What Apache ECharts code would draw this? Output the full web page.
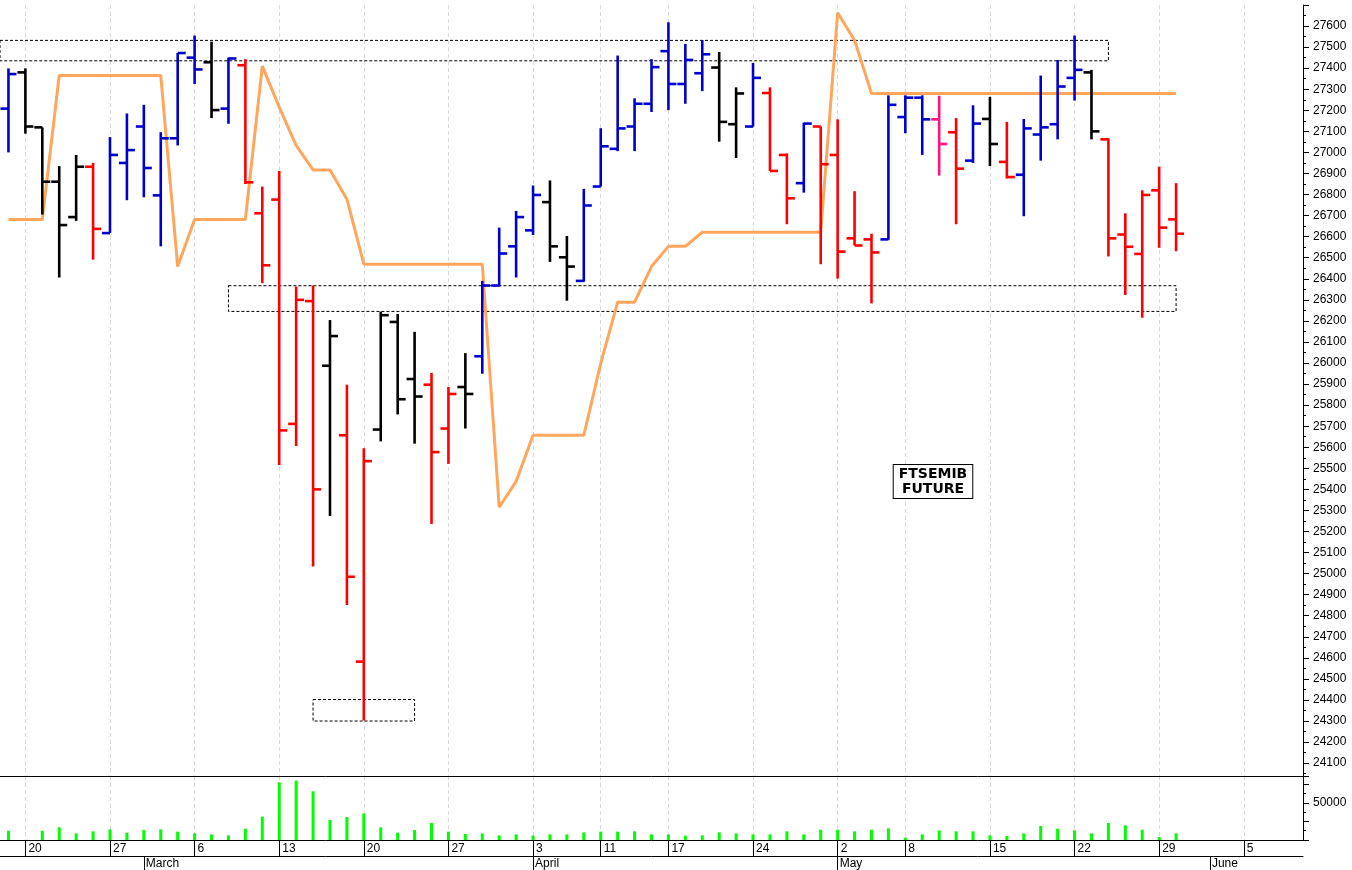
<!DOCTYPE html>
<html><head><meta charset="utf-8">
<script src="https://cdn.jsdelivr.net/npm/echarts@6/dist/echarts.min.js"></script>
<style>html,body{margin:0;padding:0;background:#fff}#c{width:1352px;height:870px}</style>
</head><body><div id="c"></div>
<script>
const dates = ['2023-02-17','2023-02-20','2023-02-21','2023-02-22','2023-02-23','2023-02-24','2023-02-27','2023-02-28',
'2023-03-01','2023-03-02','2023-03-03','2023-03-06','2023-03-07','2023-03-08','2023-03-09','2023-03-10','2023-03-13','2023-03-14','2023-03-15','2023-03-16','2023-03-17','2023-03-20','2023-03-21','2023-03-22','2023-03-23','2023-03-24','2023-03-27','2023-03-28','2023-03-29','2023-03-30','2023-03-31',
'2023-04-03','2023-04-04','2023-04-05','2023-04-06','2023-04-11','2023-04-12','2023-04-13','2023-04-14','2023-04-17','2023-04-18','2023-04-19','2023-04-20','2023-04-21','2023-04-24','2023-04-25','2023-04-26','2023-04-27','2023-04-28',
'2023-05-02','2023-05-03','2023-05-04','2023-05-05','2023-05-08','2023-05-09','2023-05-10','2023-05-11','2023-05-12','2023-05-15','2023-05-16','2023-05-17','2023-05-18','2023-05-19','2023-05-22','2023-05-23','2023-05-24','2023-05-25','2023-05-26','2023-05-29','2023-05-30','2023-05-31',
'2023-06-01','2023-06-02','2023-06-05','2023-06-06','2023-06-07','2023-06-08'];

const opens  = [27208,27380,27119,26861,26693,26932,26617,26950,27123,26796,27067,27450,27428,27208,27414,26711,26776,25711,26294,25987,25657,24582,25684,26195,25924,25897,25689,25886,26032,26368,26554,26630,26764,26502,26390,26838,27017,27123,27231,27481,27325,27376,27403,27134,27123,27282,26988,26854,27123,26988,26592,26587,26587,27168,27260,27157,27096,26961,27159,26955,26894,27085,27134,27354,27380,27062,26610,26518,26820,26682];
const highs  = [27399,27399,27119,26935,26988,26950,27073,27185,27226,27096,27472,27555,27526,27450,27443,26838,26912,26363,26368,26204,25897,25595,26244,26233,26148,25953,25886,26047,26390,26643,26722,26843,26867,26603,26827,27115,27460,27257,27443,27618,27515,27533,27477,27309,27425,27309,26995,27141,27123,27157,26816,26614,27271,27271,27271,27269,27163,27224,27264,27145,27159,27365,27439,27555,27392,27067,26711,26820,26932,26854];
const lows   = [27000,27089,26705,26406,26675,26491,26617,26773,26787,26554,27033,27325,27163,27136,26850,26379,25516,25606,25034,25274,24851,24302,25628,25756,25617,25236,25521,25689,25949,26363,26406,26608,26480,26296,26386,26838,27006,27006,27192,27201,27231,27291,27051,26973,27123,26912,26659,26809,26469,26401,26558,26283,26585,27091,26988,26890,26659,26950,26935,26876,26697,26961,27062,27246,27062,26506,26323,26215,26547,26531];
const closes = [27372,27123,26861,26655,26932,26637,26988,27011,26926,27067,27472,27394,27201,27446,26858,26464,25680,26300,25400,26128,24985,25534,26227,25828,25841,25577,25853,25853,26368,26520,26693,26798,26554,26458,26748,27029,27114,27231,27405,27325,27439,27466,27145,27280,27354,26912,26782,27137,26944,26529,26558,26525,27226,27260,27157,27040,26923,27137,27040,26883,27114,27119,27313,27392,27100,26592,26552,26798,26643,26614];
const barColors = ['B','K','K','K','K','R','B','B','B','B','B','B','K','B','R','R','R','R','R','K','R','R','K','K','K','R','R','K','B','B','B','B','K','K','B','B','B','B','B','B','B','B','K','K','B','R','R','B','R','R','R','R','B','B','B','P','R','B','K','R','B','B','B','B','K','R','R','R','R','R'];
const trailLine = [26682,26682,26682,27365,27365,27365,27365,27365,27365,27365,26458,26682,26682,26682,26682,27410,27215,27033,26917,26917,26778,26469,26469,26469,26469,26469,26469,26469,26469,25315,25438,25657,25657,25657,25657,25998,26289,26289,26458,26554,26554,26621,26621,26621,26621,26621,26621,26621,26621,27663,27533,27280,27280,27280,27280,27280,27280,27280,27280,27280,27280,27280,27280,27280,27280,27280,27280,27280,27280,27280];
const volumes = [12600,0,12600,17100,9000,11700,14400,9900,13500,14400,11300,9000,7600,6300,15300,31500,77900,80200,65800,27000,31100,36000,17100,9900,13500,23000,11300,8100,9000,6300,7600,5900,7600,7600,10300,11300,11300,11700,7600,7600,5900,6300,10300,9000,7600,7600,11700,7600,13900,13900,11700,13900,15800,3200,7600,13100,11700,11700,6300,5400,9000,18900,15300,13100,9000,23000,19800,13900,4000,9000];
const priceTicksHidden = [24000, 27700];
const monthNames = ['January','February','March','April','May','June','July','August','September','October','November','December'];
const boxes = [
  [{yAxis: 27532}, {xAxis: '2023-05-24', yAxis: 27435}],
  [{xAxis: '2023-03-08', yAxis: 26367}, {xAxis: '2023-05-30', yAxis: 26245}],
  [{xAxis: '2023-03-15', yAxis: 24402}, {xAxis: '2023-03-23', yAxis: 24300}]
];

const colorMap = {B:'#0000cc', K:'#000000', R:'#ff0000', P:'#ff1480'};
const dd = dates.map(s => new Date(s + 'T00:00:00Z'));
const isWeek = dd.map((d,i) => i > 0 && d.getUTCDay() < dd[i-1].getUTCDay());
const isMonth = dd.map((d,i) => i > 0 && d.getUTCMonth() !== dd[i-1].getUTCMonth());
const ohlc = opens.map((o,i) => [i, o, highs[i], lows[i], closes[i]]);

const chart = echarts.init(document.getElementById('c'));
const gridDash = {color:'#d9d9d9', type:[4,3], width:1};
const font = 'Arial';
chart.setOption({
  animation: false,
  backgroundColor: '#fff',
  grid: [
    {left: 0, right: 49, top: 5, bottom: 85.8},
    {left: 0, right: 49, top: 776, bottom: 30}
  ],
  xAxis: [
    {gridIndex:0, type:'category', data:dates, boundaryGap:true,
     axisLine:{show:false}, axisTick:{show:false}, axisLabel:{show:false},
     splitLine:{show:true, interval:(i)=>isWeek[i], alignWithLabel:true, lineStyle:gridDash}},
    {gridIndex:1, type:'category', data:dates, position:'bottom', boundaryGap:true,
     axisLine:{show:true, onZero:false, lineStyle:{color:'#000', width:1}},
     axisTick:{show:true, interval:(i)=>isWeek[i], alignWithLabel:true, length:16, lineStyle:{color:'#000'}},
     axisLabel:{interval:(i)=>isWeek[i], formatter:(v)=>String(+v.slice(8)), align:'left', padding:[0,0,0,3], margin:3, color:'#000', fontSize:12, fontFamily:font},
     splitLine:{show:true, interval:(i)=>isWeek[i], alignWithLabel:true, lineStyle:gridDash}},
    {gridIndex:1, type:'category', data:dates, position:'bottom', offset:16, boundaryGap:true,
     axisLine:{show:true, onZero:false, lineStyle:{color:'#000', width:1}},
     axisTick:{show:true, interval:(i)=>isMonth[i], alignWithLabel:true, length:14, lineStyle:{color:'#000'}},
     axisLabel:{interval:(i)=>isMonth[i], formatter:(v)=>monthNames[+v.slice(5,7)-1], align:'left', padding:[0,0,0,2], margin:2, color:'#000', fontSize:12, fontFamily:font}},
    {gridIndex:1, type:'category', data:dates, position:'top', boundaryGap:true,
     axisLine:{show:true, onZero:false, lineStyle:{color:'#000', width:1}},
     axisTick:{show:false}, axisLabel:{show:false}}
  ],
  yAxis: [
    {gridIndex:0, type:'value', position:'right', min:24000, max:27700, interval:100, scale:true,
     axisLine:{show:true, lineStyle:{color:'#000'}},
     axisTick:{show:true, length:6, lineStyle:{color:'#000'}},
     minorTick:{show:true, splitNumber:2, length:3, lineStyle:{color:'#000'}},
     splitLine:{show:false},
     axisLabel:{formatter:(v)=>priceTicksHidden.includes(v)?'':String(v), color:'#000', fontSize:12, margin:10, fontFamily:font}},
    {gridIndex:1, type:'value', position:'right', min:0, max:86486, interval:25000,
     axisLine:{show:true, lineStyle:{color:'#000'}},
     axisTick:{show:true, length:6, lineStyle:{color:'#000'}},
     minorTick:{show:true, splitNumber:2, length:3, lineStyle:{color:'#000'}},
     splitLine:{show:false},
     axisLabel:{formatter:(v)=>v===50000?'50000':'', color:'#000', fontSize:12, margin:10, fontFamily:font}}
  ],
  series: [
    {type:'line', xAxisIndex:0, yAxisIndex:0, data:trailLine, symbol:'none', z:1,
     lineStyle:{color:'#ffa65c', width:3}, silent:true,
     markArea:{silent:true, itemStyle:{color:'rgba(0,0,0,0)', borderColor:'#000', borderWidth:1, borderType:[3,2]}, data:boxes}},
    {type:'custom', xAxisIndex:0, yAxisIndex:0, data:ohlc, encode:{x:0, y:[1,2,3,4]}, z:3, clip:false,
     renderItem:function(params, api){
       const x = api.value(0);
       const o = api.coord([x, api.value(1)]);
       const h = api.coord([x, api.value(2)]);
       const l = api.coord([x, api.value(3)]);
       const c = api.coord([x, api.value(4)]);
       const col = colorMap[barColors[params.dataIndex]];
       const st = {stroke: col, lineWidth: 2.6, fill: null};
       return {type:'group', children:[
         {type:'line', shape:{x1:h[0], y1:h[1], x2:l[0], y2:l[1]}, style:st},
         {type:'line', shape:{x1:o[0]-8, y1:o[1], x2:o[0], y2:o[1]}, style:st},
         {type:'line', shape:{x1:c[0], y1:c[1], x2:c[0]+8, y2:c[1]}, style:st}
       ]};
     }},
    {type:'bar', xAxisIndex:1, yAxisIndex:1, data:volumes, barWidth:3, itemStyle:{color:'#00ff00'}, silent:true}
  ],
  graphic: [
    {type:'text', z:10,
     style:{x:933, y:465, text:'FTSEMIB\nFUTURE', font:'bold 14px "DejaVu Sans"', fill:'#000', align:'center', verticalAlign:'top', lineHeight:15,
            backgroundColor:'#fff', borderColor:'#000', borderWidth:1, padding:[2,5,1,5]}}
  ]
});
</script></body></html>
